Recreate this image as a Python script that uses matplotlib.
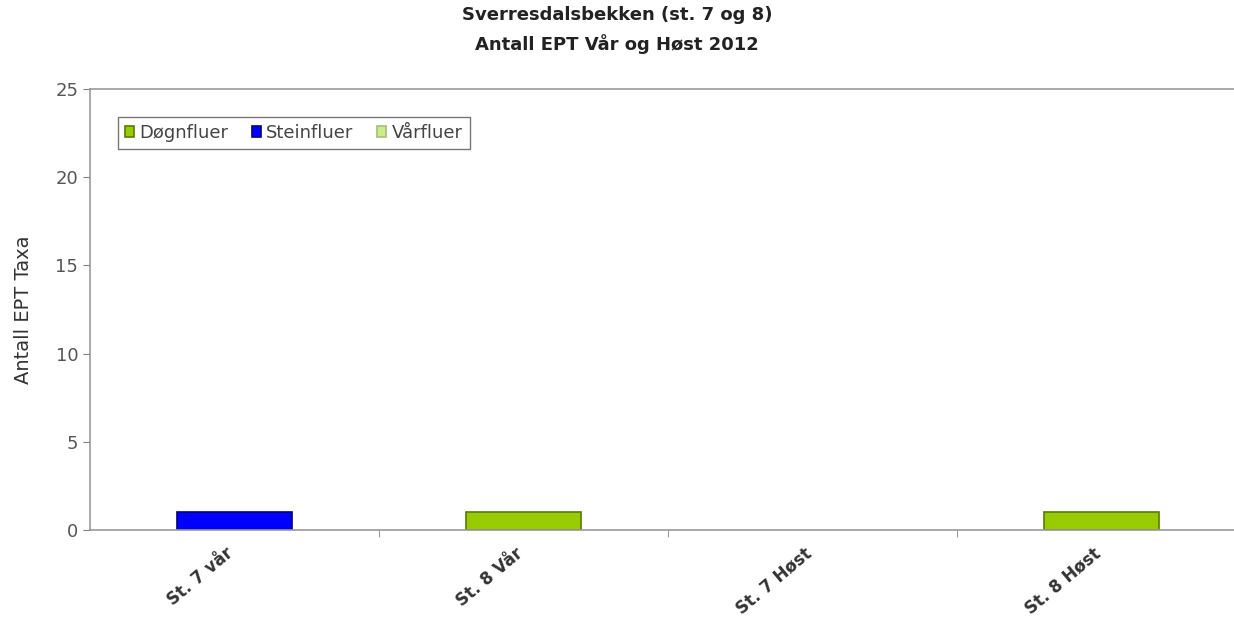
import numpy as np
import matplotlib
matplotlib.use("Agg")
import matplotlib.pyplot as plt
import matplotlib.transforms as mtransforms

plt.rcParams['font.family'] = ['DejaVu Sans']

stations = ["St. 7 vår", "St. 8 Vår", "St. 7 Høst", "St. 8 Høst"]
dognfluer = [0, 1, 0, 1]
steinfluer = [1, 0, 0, 0]
varfluer = [0, 0, 0, 0]

series = [
    ("Døgnfluer", dognfluer, "#99CC00", "#5a7a00"),
    ("Steinfluer", steinfluer, "#0000FF", "#000080"),
    ("Vårfluer", varfluer, "#CCEE88", "#AABB77"),
]

fig = plt.figure(figsize=(12.34, 6.26), dpi=100)
ax = fig.add_axes([90 / 1234, 96 / 626, 1156 / 1234, 441 / 626])

x = np.arange(len(stations))
bottom = np.zeros(len(stations))
for name, vals, col, edge in series:
    v = np.array(vals, dtype=float)
    # skip empty segments so no flat outline is drawn at zero
    shown = np.where(v > 0, v, np.nan)
    ax.bar(x, shown, width=0.4, bottom=bottom, color=col, edgecolor=edge,
           linewidth=1.2, label=name)
    bottom += v

ax.set_xlim(-0.5, len(stations) - 0.5)
ax.set_ylim(0, 25)
ax.set_yticks(range(0, 26, 5))
ax.set_xticks(x)
ax.set_xticklabels(stations, rotation=40, ha="right", rotation_mode="anchor",
                   fontsize=12, fontweight="bold", color="#333333")
ax.tick_params(axis="x", length=0, pad=10)
# nudge rotated labels a little to the left
shift = mtransforms.ScaledTranslation(-9 / 100, 0, fig.dpi_scale_trans)
for lbl in ax.get_xticklabels():
    lbl.set_transform(lbl.get_transform() + shift)
ax.set_xticks(np.arange(0.5, len(stations) - 0.5, 1), minor=True)
ax.tick_params(axis="x", which="minor", length=5, color="#808080", direction="out")
ax.tick_params(axis="y", length=5, color="#808080", labelsize=13, labelcolor="#555555")
ax.set_ylabel("Antall EPT Taxa", fontsize=14, color="#333333", labelpad=16)

for s in ax.spines.values():
    s.set_color("#999999")
    s.set_linewidth(1.2)

fig.suptitle("Sverresdalsbekken (st. 7 og 8)\nAntall EPT Vår og Høst 2012",
             y=0.99, fontsize=13, fontweight="bold", color="#222222",
             linespacing=1.6)

leg = ax.legend(loc="upper left", ncol=3, bbox_to_anchor=(0.024, 0.937),
                fontsize=13, frameon=True, fancybox=False, handlelength=0.5,
                handleheight=0.5, handletextpad=0.3, columnspacing=1.3,
                borderpad=0.4, borderaxespad=0)
leg.get_frame().set_edgecolor("#555555")
leg.get_frame().set_linewidth(1.0)
for t in leg.get_texts():
    t.set_color("#444444")

fig.savefig("out.png", dpi=100)
